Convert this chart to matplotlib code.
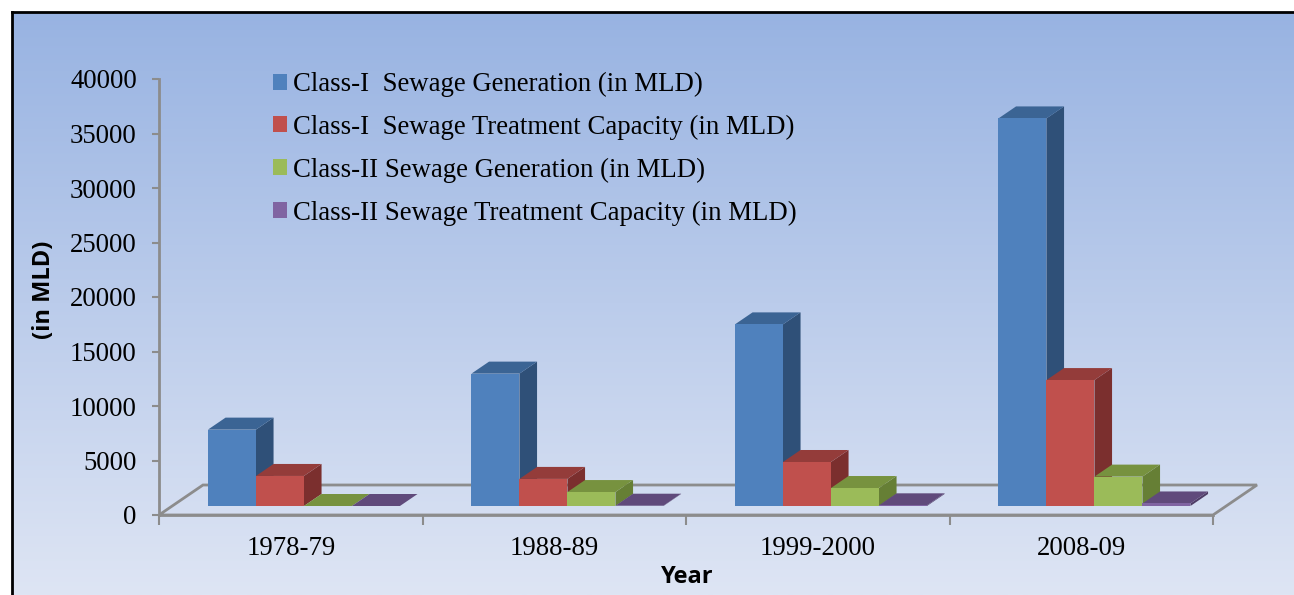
import numpy as np
import matplotlib
matplotlib.use("Agg")
from matplotlib import pyplot as plt
from matplotlib.patches import Polygon

# data (MLD)
years = ["1978-79", "1988-89", "1999-2000", "2008-09"]
class1_gen = [7007, 12145, 16662, 35558]
class1_treat = [2756, 2485, 4037, 11553]
class2_gen = [0, 1280, 1650, 2696]
class2_treat = [0, 27, 62, 233]

labels = [
    "Class-I  Sewage Generation (in MLD)",
    "Class-I  Sewage Treatment Capacity (in MLD)",
    "Class-II Sewage Generation (in MLD)",
    "Class-II Sewage Treatment Capacity (in MLD)",
]
series = [class1_gen, class1_treat, class2_gen, class2_treat]
# front, top, side colours
front_cols = ["#4f81bd", "#c0504d", "#9bbb59", "#8064a2"]
top_cols = ["#3b6494", "#943c3a", "#77923f", "#604a7b"]
side_cols = ["#2f5078", "#7b2f2e", "#667f35", "#4f3d66"]

W, H = 1294, 595
fig = plt.figure(figsize=(W / 100, H / 100), dpi=100)

# gradient background with black top/left border
bg = fig.add_axes([12 / W, 0, 1 - 12 / W, (H - 12) / H], zorder=-5)
grad = np.linspace(0, 1, 256)[:, None]
top = np.array([0x98, 0xb3, 0xe2]) / 255
bot = np.array([0xde, 0xe5, 0xf4]) / 255
img = top[None, None, :] * (1 - grad[:, :, None]) + bot[None, None, :] * grad[:, :, None]
bg.imshow(img, aspect="auto", extent=[0, 1, 0, 1])
bg.set_xlim(0, 1)
bg.set_ylim(0, 1)
bg.set_xticks([])
bg.set_yticks([])
for s in ["right", "bottom"]:
    bg.spines[s].set_visible(False)
for s in ["top", "left"]:
    bg.spines[s].set_linewidth(2)
    bg.spines[s].set_color("black")

# main axes: front y axis at x=159px, y from 515 to 79 px
x0, x1 = 159, 1262
y0, y1 = 515, 79
cat_px = (1213 - 159) / 4
ax = fig.add_axes([x0 / W, (H - y0) / H, (x1 - x0) / W, (y0 - y1) / H])
ax.set_facecolor("none")
ax.set_ylim(0, 40000)
ax.set_xlim(0, (x1 - x0) / cat_px)

DX = 44 / cat_px                    # depth shift in categories
DY = 30 / (y0 - y1) * 40000         # depth shift in value units
d0, d1 = 0.3, 0.7
bw = 48 / cat_px


def pt(c, v, d):
    return (c + d * DX, v + d * DY)


gray = "#8c8c8c"
# floor outline
floor = [pt(0, 0, 0), pt(4, 0, 0), pt(4, 0, 1), pt(0, 0, 1)]
ax.add_patch(Polygon(floor, closed=True, fill=False, edgecolor=gray, lw=2, zorder=1))

handles = []
for i in range(len(years)):
    left = i + 0.5 - 2 * bw
    for j, vals in enumerate(series):
        h = vals[i]
        c0 = left + j * bw
        c1 = c0 + bw
        side = [pt(c1, 0, d0), pt(c1, h, d0), pt(c1, h, d1), pt(c1, 0, d1)]
        topf = [pt(c0, h, d0), pt(c1, h, d0), pt(c1, h, d1), pt(c0, h, d1)]
        ax.add_patch(Polygon(side, closed=True, facecolor=side_cols[j], edgecolor="none", zorder=2))
        ax.add_patch(Polygon(topf, closed=True, facecolor=top_cols[j], edgecolor="none", zorder=2))
        b = ax.bar(c0 + d0 * DX, h, width=bw, bottom=d0 * DY, align="edge",
                   color=front_cols[j], edgecolor="none", zorder=2,
                   label=labels[j] if i == 0 else None)
        if i == 0:
            handles.append(b)

# axes styling
for s in ["top", "right"]:
    ax.spines[s].set_visible(False)
ax.spines["left"].set_color(gray)
ax.spines["left"].set_linewidth(2)
ax.spines["bottom"].set_color(gray)
ax.spines["bottom"].set_linewidth(2)
ax.spines["bottom"].set_bounds(0, 4)

serif = "Liberation Serif"
ax.set_yticks(np.arange(0, 40001, 5000))
ax.tick_params(axis="y", length=5, width=1.5, color=gray, pad=11, labelsize=19.3)
ax.set_xticks(range(5))
ax.set_xticks(np.arange(len(years)) + 0.5, minor=True)
ax.set_xticklabels([""] * 5)
ax.set_xticklabels(years, minor=True)
ax.tick_params(axis="x", which="major", length=7, width=1.5, color=gray)
ax.tick_params(axis="x", which="minor", length=0, pad=15, labelsize=19.3)
for t in ax.get_yticklabels() + ax.get_xticklabels(minor=True):
    t.set_fontfamily(serif)

fig.text(44 / W, 1 - 290 / H, "(in MLD)", rotation=90, ha="center", va="center",
         fontsize=17, fontweight="bold", family="Open Sans")
fig.text(687 / W, 1 - 577 / H, "Year", ha="center", va="center",
         fontsize=17, fontweight="bold", family="Open Sans")

leg = fig.legend(handles=handles, loc="upper left", bbox_to_anchor=(273 / W, 1 - 72 / H),
                 frameon=False, borderpad=0, borderaxespad=0,
                 handlelength=0.54, handleheight=0.54, handletextpad=0.22,
                 labelspacing=0.66, prop={"family": serif, "size": 19.3})

fig.savefig("out.png", dpi=100)
